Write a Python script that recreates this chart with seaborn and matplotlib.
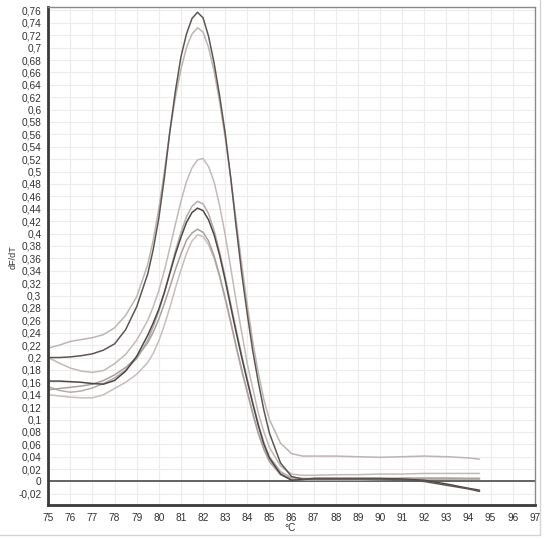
import pandas as pd
import seaborn as sns
import matplotlib.pyplot as plt
from matplotlib.lines import Line2D

# Temperature grid (deg C) shared by all melt curves
temps = [75, 75.5, 76, 76.5, 77, 77.5, 78, 78.5, 79,
         79.5, 79.75, 80, 80.25, 80.5, 80.75, 81, 81.25, 81.5, 81.75, 82,
         82.25, 82.5, 82.75, 83, 83.25, 83.5, 83.75, 84, 84.25, 84.5, 84.75, 85,
         85.5, 86, 86.5, 87, 88, 89, 90, 91, 92, 93, 94, 94.5]

# dF/dT values
curve_a = [.200, .200, .201, .203, .206, .212, .222, .245, .282,
           .335, .375, .425, .490, .565, .630, .685, .722, .747, .757, .748,
           .718, .675, .622, .562, .490, .410, .335, .270, .210, .160, .115, .078,
           .030, .008, .004, .004, .004, .004, .004, .003, .000, -.006, -.012, -.016]
curve_b = [.215, .220, .226, .229, .232, .237, .248, .268, .298,
           .350, .390, .440, .500, .565, .620, .665, .700, .722, .732, .725,
           .700, .662, .612, .555, .490, .420, .350, .285, .225, .175, .132, .100,
           .062, .045, .041, .041, .041, .040, .039, .040, .041, .040, .038, .036]
curve_c = [.200, .191, .183, .178, .176, .179, .190, .205, .228,
           .260, .282, .308, .340, .377, .415, .452, .484, .506, .519, .521,
           .508, .483, .445, .398, .345, .290, .240, .190, .150, .110, .080, .055,
           .025, .012, .010, .010, .011, .011, .012, .012, .013, .013, .013, .013]
curve_d = [.162, .162, .161, .160, .158, .157, .163, .178, .202,
           .236, .256, .278, .305, .336, .367, .394, .418, .434, .441, .437,
           .422, .398, .365, .325, .282, .240, .200, .162, .125, .090, .060, .038,
           .012, .002, .003, .005, .005, .005, .005, .004, .002, -.004, -.011, -.014]
curve_e = [.153, .147, .144, .146, .151, .158, .167, .180, .198,
           .228, .250, .275, .304, .338, .372, .402, .427, .444, .452, .448,
           .432, .405, .370, .330, .287, .245, .203, .165, .127, .093, .063, .040,
           .016, .006, .005, .005, .005, .005, .005, .005, .005, .005, .005, .005]
curve_f = [.148, .150, .152, .154, .157, .163, .172, .184, .200,
           .224, .241, .262, .287, .314, .342, .367, .389, .401, .407, .402,
           .388, .364, .332, .296, .258, .218, .180, .145, .110, .078, .052, .032,
           .011, .003, .002, .002, .002, .002, .003, .004, .004, .004, .004, .004]
curve_g = [.140, .138, .136, .135, .135, .140, .150, .160, .173,
           .192, .207, .227, .252, .281, .312, .341, .368, .388, .398, .395,
           .382, .360, .330, .294, .256, .216, .178, .143, .108, .077, .052, .034,
           .013, .004, .003, .003, .003, .003, .004, .006, .006, .006, .005, .005]

curves = {'A': curve_a, 'B': curve_b, 'C': curve_c, 'D': curve_d,
          'E': curve_e, 'F': curve_f, 'G': curve_g}
# light traces first, dark ones on top
draw_order = ['G', 'C', 'B', 'E', 'F', 'D', 'A']
colors = {'A': '#5e5553', 'B': '#bdb5b2', 'C': '#c2bab7', 'D': '#4e4745',
          'E': '#b5adaa', 'F': '#a9a19e', 'G': '#c6bfbc'}

df = pd.DataFrame([(name, t, v) for name, vals in curves.items()
                   for t, v in zip(temps, vals)],
                  columns=['well', 'temp', 'dfdt'])

x_ticks = list(range(75, 98))
y_ticks = [round(-0.02 + 0.02 * i, 2) for i in range(40)]
y_labels = [f"{v:g}".replace('.', ',') for v in y_ticks]

sns.set_style('white')
plt.rcParams['font.family'] = ['Liberation Sans', 'DejaVu Sans']

fig = plt.figure(figsize=(5.48, 5.39), dpi=100)
ax = fig.add_axes([0.088, 0.063, 0.888, 0.924])

sns.lineplot(data=df, x='temp', y='dfdt', hue='well', hue_order=draw_order,
             palette=colors, linewidth=1.1, legend=False, ax=ax,
             estimator=None, sort=False)

ax.axhline(0, color='#4a4a4a', lw=1.2, zorder=1)

ax.set_xlim(75, 97)
ax.set_ylim(-0.038, 0.7655)
ax.set_xticks(x_ticks)
ax.set_xticklabels([str(t) for t in x_ticks])
ax.set_yticks(y_ticks)
ax.set_yticklabels(y_labels)
ax.grid(True, color='#ececec', lw=0.8, zorder=0)
ax.set_axisbelow(True)

ax.tick_params(axis='both', labelsize=7.3, length=3.5, width=0.8,
               color='#555555', labelcolor='#333333', pad=1.5)
ax.tick_params(axis='x', pad=2.5)

for side in ['left', 'bottom']:
    ax.spines[side].set_color('#3a3a3a')
    ax.spines[side].set_linewidth(2.0)
for side in ['top', 'right']:
    ax.spines[side].set_color('#8a8a8a')
    ax.spines[side].set_linewidth(1.0)

ax.set_xlabel('')
ax.set_ylabel('')
fig.text(13 / 548, 1 - 257 / 539, 'dF/dT', rotation=90, fontsize=6.5,
         color='#333333', ha='center', va='center')
fig.text(290 / 548, 1 - 528 / 539, '°C', fontsize=7.3, color='#333333',
         ha='center', va='center')

# light frame of the original screenshot
fig.add_artist(Line2D([0, 540 / 548], [1 - 535 / 539] * 2, color='#d4d4d4', lw=1))
fig.add_artist(Line2D([540 / 548] * 2, [1 - 535 / 539, 1], color='#d4d4d4', lw=1))

plt.savefig('out.png', dpi=100)
